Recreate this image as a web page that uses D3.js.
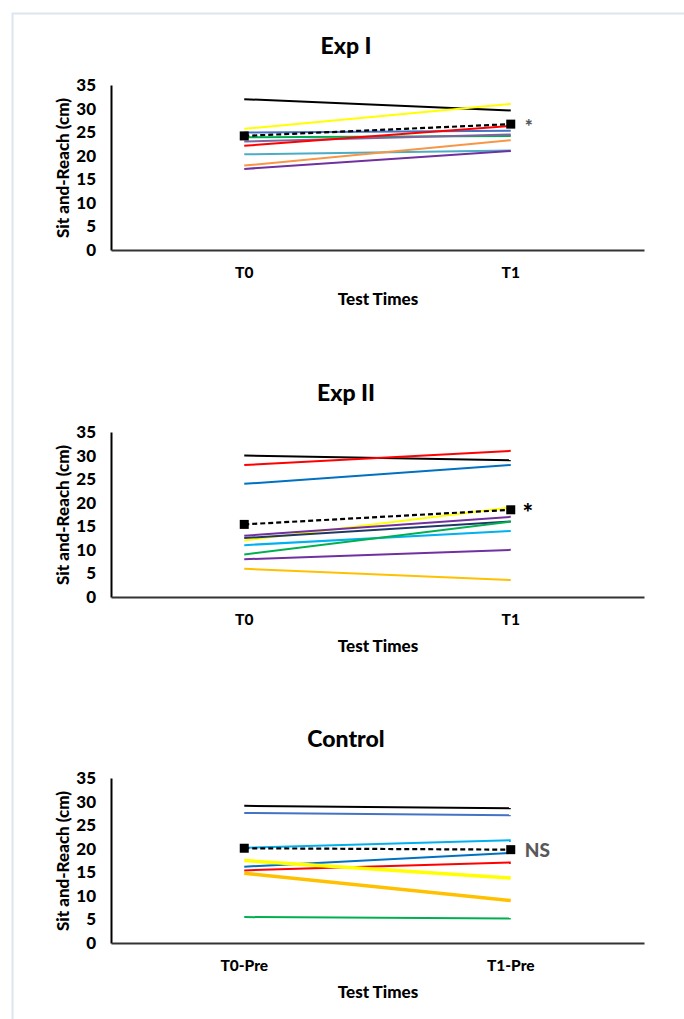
<!DOCTYPE html>
<html><head><meta charset="utf-8">
<script src="https://cdn.jsdelivr.net/npm/d3@7/dist/d3.min.js"></script>
<style>
html,body{margin:0;padding:0;background:#fff;}
text{font-family:Lato,"Open Sans",sans-serif;font-weight:900;}
</style></head>
<body>
<svg id="chart" width="684" height="1019"></svg>
<script>
// ---------- DATA ----------
const catsExp = ["T0", "T1"];
const catsCtrl = ["T0-Pre", "T1-Pre"];
const yTicks = [0, 5, 10, 15, 20, 25, 30, 35];
const panelTitles = ["Exp I", "Exp II", "Control"];
const xTitle = "Test Times";
const yTitle = "Sit and-Reach (cm)";
const marks = ["*", "*", "NS"];

// Exp I individual subjects
const expI_T0 = [32.0, 25.7, 24.9, 23.9, 23.0, 22.1, 20.3, 17.9, 17.2];
const expI_T1 = [29.6, 31.0, 25.3, 24.2, 24.5, 26.3, 21.1, 23.3, 21.0];
const expI_mean = [24.2, 26.7];

// Exp II individual subjects
const expII_T0 = [30, 28, 24, 12, 13, 12.5, 11, 9, 8, 6];
const expII_T1 = [29, 31, 28, 19, 17, 16, 14, 16, 10, 3.6];
const expII_mean = [15.4, 18.5];

// Control individual subjects
const ctrl_T0 = [29.1, 27.6, 20.2, 16.2, 15.4, 17.5, 14.8, 5.5];
const ctrl_T1 = [28.6, 27.1, 21.8, 19.1, 17.1, 13.8, 9.0, 5.2];
const ctrl_mean = [20.1, 19.8];

// palettes (styles, kept separate from data)
const colExpI = ["#000000", "#ffff00", "#4472c4", "#00b050", "#8064a2", "#ff0000", "#4bacc6", "#f79646", "#7030a0"];
const colExpII = ["#000000", "#ff0000", "#0070c0", "#ffff00", "#7030a0", "#1f3864", "#00b0f0", "#00b050", "#7030a0", "#ffc000"];
const colCtrl = ["#000000", "#4472c4", "#00b0f0", "#0070c0", "#ff0000", "#ffff00", "#ffc000", "#00b050"];
const widCtrl = [2, 2, 2, 2, 2, 3.5, 3.5, 2];

// ---------- DRAW ----------
const svg = d3.select("#chart");
const FF = "Lato, 'Open Sans', sans-serif";

svg.append("rect").attr("x", 12.5).attr("y", 13.5).attr("width", 720).attr("height", 1100)
  .attr("fill", "none").attr("stroke", "#dce5f0").attr("stroke-width", 2);

const panels = [
  {cats: catsExp, t0: expI_T0, t1: expI_T1, mean: expI_mean, cols: colExpI, wids: null, top: 0},
  {cats: catsExp, t0: expII_T0, t1: expII_T1, mean: expII_mean, cols: colExpII, wids: null, top: 347},
  {cats: catsCtrl, t0: ctrl_T0, t1: ctrl_T1, mean: ctrl_mean, cols: colCtrl, wids: widCtrl, top: 693}
];

const left = 111, right = 644;

panels.forEach((p, i) => {
  const g = svg.append("g").attr("transform", `translate(0,${p.top})`);
  const x = d3.scaleBand().domain(p.cats).range([left, right]);
  const xc = c => x(c) + x.bandwidth() / 2;
  const y = d3.scaleLinear().domain([0, 35]).range([250, 85]);

  // title
  g.append("text").attr("x", 346).attr("y", 54).attr("text-anchor", "middle")
    .attr("font-size", 23).attr("fill", "#000").text(panelTitles[i]);

  // y axis
  const ya = g.append("g").attr("transform", `translate(${left},0)`)
    .call(d3.axisLeft(y).tickValues(yTicks).tickSize(0).tickPadding(15));
  ya.select(".domain").attr("stroke", "#000").attr("stroke-width", 2);
  ya.selectAll("text").attr("font-size", 17).attr("fill", "#000")
    .attr("font-family", FF).attr("font-weight", "900");

  // x axis
  const xa = g.append("g").attr("transform", `translate(0,${y(0)})`)
    .call(d3.axisBottom(x).tickSize(0).tickPadding(17));
  xa.select(".domain").attr("stroke", "#333").attr("stroke-width", 2);
  xa.selectAll("text").attr("font-size", 15.5).attr("fill", "#000")
    .attr("font-family", FF).attr("font-weight", "900");

  // axis titles
  g.append("text").attr("x", 378).attr("y", 305).attr("text-anchor", "middle")
    .attr("font-size", 17).attr("fill", "#000").text(xTitle);
  g.append("text").attr("transform", `translate(69,168) rotate(-90)`).attr("text-anchor", "middle")
    .attr("font-size", 17).attr("fill", "#000").text(yTitle);

  // individual lines
  p.t0.forEach((v, k) => {
    g.append("line")
      .attr("x1", xc(p.cats[0])).attr("y1", y(v))
      .attr("x2", xc(p.cats[1])).attr("y2", y(p.t1[k]))
      .attr("stroke", p.cols[k]).attr("stroke-width", p.wids ? p.wids[k] : 2)
      .attr("stroke-linecap", "butt");
  });

  // mean dashed line
  g.append("line")
    .attr("x1", xc(p.cats[0])).attr("y1", y(p.mean[0]))
    .attr("x2", xc(p.cats[1])).attr("y2", y(p.mean[1]))
    .attr("stroke", "#000").attr("stroke-width", 2.2).attr("stroke-dasharray", "5,3");
  const ms = 9;
  p.mean.forEach((m, k) => {
    g.append("rect").attr("x", xc(p.cats[k]) - ms / 2).attr("y", y(m) - ms / 2)
      .attr("width", ms).attr("height", ms).attr("fill", "#000");
  });

  // significance marks
  const mx = xc(p.cats[1]), my = y(p.mean[1]);
  if (i === 0) {
    g.append("text").attr("x", mx + 18).attr("y", my + 9).attr("text-anchor", "middle")
      .attr("font-size", 19).attr("fill", "#595959").text(marks[i]);
  } else if (i === 1) {
    g.append("text").attr("x", mx + 17).attr("y", my + 12).attr("text-anchor", "middle")
      .attr("font-size", 25).attr("fill", "#000").text(marks[i]);
  } else {
    g.append("text").attr("x", mx + 14).attr("y", my + 7).attr("text-anchor", "start")
      .attr("font-size", 19).attr("fill", "#595959").text(marks[i]);
  }
});
</script>
</body></html>
